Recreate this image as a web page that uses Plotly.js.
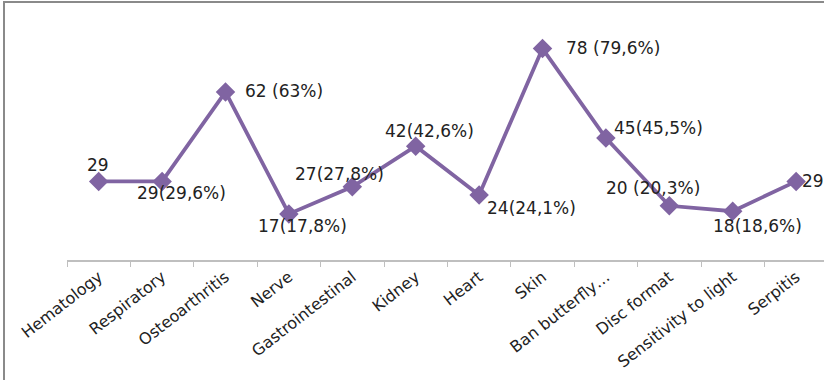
<!DOCTYPE html>
<html>
<head>
<meta charset="utf-8">
<script src="https://cdn.plot.ly/plotly-3.0.1.min.js"></script>
<style>
  html, body { margin: 0; padding: 0; background: #fff; }
  #wrap { position: relative; width: 824px; height: 380px; overflow: hidden; }
  #chart { position: absolute; left: 0; top: 0; width: 824px; height: 380px; }
  #frame { position: absolute; left: 3px; top: 1px; width: 830px; height: 400px;
           border-left: 2px solid #8a8a8a; border-top: 2px solid #8a8a8a; pointer-events: none; }
</style>
</head>
<body>
<div id="wrap">
  <div id="chart"></div>
  <div id="frame"></div>
</div>
<script>
// ---- data ----
const categories = ["Hematology", "Respiratory", "Osteoarthritis", "Nerve", "Gastrointestinal",
  "Kidney", "Heart", "Skin", "Ban butterfly…", "Disc format", "Sensitivity to light", "Serpitis"];
const counts = [29, 29, 62, 17, 27, 42, 24, 78, 45, 20, 18, 29];
const labels = ["29", "29(29,6%)", "62 (63%)", "17(17,8%)", "27(27,8%)", "42(42,6%)",
  "24(24,1%)", "78 (79,6%)", "45(45,5%)", "20 (20,3%)", "18(18,6%)", "29"];

// ---- label placement (style) ----
const labelAnchor = ["center", "center", "left", "center", "center", "center",
  "left", "left", "left", "center", "center", "left"];
const labelDx = [-1, 19, 17, 14, -13, 14, 6, 21, 6, -16, 25, 4];
const labelDy = [16, -12, 1, -12, 13, 15, -13, 1, 10, 18, -15, 0];

const purple = "#8064A2";
const fontFam = "DejaVu Sans, sans-serif";

const annotations = categories.map((c, i) => ({
  x: c, y: counts[i], xref: "x", yref: "y",
  text: labels[i], showarrow: false,
  xanchor: labelAnchor[i], yanchor: "middle",
  xshift: labelDx[i], yshift: labelDy[i],
  font: { family: fontFam, size: 17, color: "#222" }
}));

const trace = {
  type: "scatter", mode: "lines+markers",
  x: categories, y: counts,
  line: { color: purple, width: 3.8 },
  marker: { symbol: "diamond", size: 15, color: purple },
  hoverinfo: "x+y"
};

const layout = {
  width: 824, height: 380,
  margin: { l: 67, r: 0, t: 16, b: 120 },
  paper_bgcolor: "#fff", plot_bgcolor: "#fff",
  showlegend: false,
  xaxis: {
    type: "category",
    range: [-0.5, 11.44],
    showline: true, linecolor: "#bfbfbf", linewidth: 1.5,
    ticks: "outside", tickson: "boundaries", ticklen: 5, tickcolor: "#bfbfbf", tickwidth: 1,
    tickangle: -38,
    tickfont: { family: fontFam, size: 16, color: "#222" },
    showgrid: false, zeroline: false, fixedrange: true
  },
  yaxis: {
    range: [0, 90],
    visible: false, showgrid: false, zeroline: false, fixedrange: true
  },
  annotations: annotations
};

Plotly.newPlot("chart", [trace], layout, { displayModeBar: false, staticPlot: true });
</script>
</body>
</html>
